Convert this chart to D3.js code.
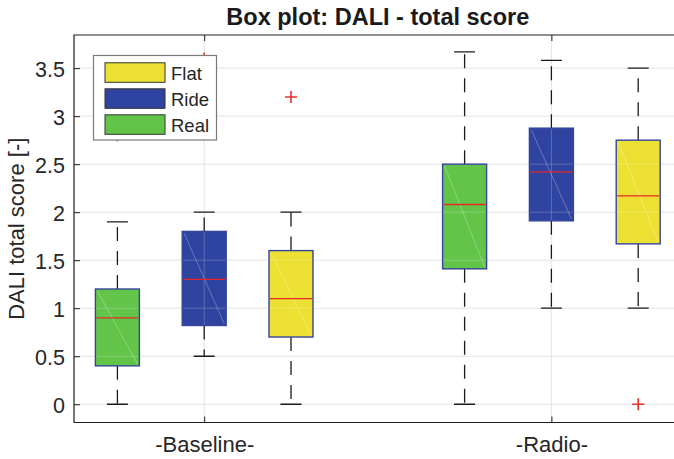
<!DOCTYPE html>
<html>
<head>
<meta charset="utf-8">
<script src="https://cdn.jsdelivr.net/npm/d3@7"></script>
<style>
  html, body { margin: 0; padding: 0; background: #fff; }
  svg { display: block; font-family: "Liberation Sans", Arial, Helvetica, sans-serif; }
</style>
</head>
<body>
<svg id="chart" width="674" height="459"></svg>
<script>
// Groups on the x axis and their tick positions
const groups = ["-Baseline-", "-Radio-"];
const groupPositions = [2, 6];

// Series drawn left to right inside each group
const series = ["Real", "Ride", "Flat"];
const seriesColors = ["#62c54a", "#2f43a0", "#ece132"];
const seriesOffsets = [-1, 0, 1];

// Box statistics per series: [lower whisker, Q1, median, Q3, upper whisker], one per group
const realStats = [[0, 0.40, 0.90, 1.20, 1.90], [0, 1.41, 2.08, 2.50, 3.67]];
const rideStats = [[0.50, 0.82, 1.30, 1.80, 2.00], [1.00, 1.91, 2.42, 2.875, 3.58]];
const flatStats = [[0, 0.70, 1.10, 1.60, 2.00], [1.00, 1.67, 2.17, 2.75, 3.50]];

// Outliers per series, one list per group
const realOutliers = [[2.8], []];
const rideOutliers = [[3.6], []];
const flatOutliers = [[3.2], [0]];

// Legend order
const legendOrder = ["Flat", "Ride", "Real"];

// Axis ticks
const yTicks = [0, 0.5, 1, 1.5, 2, 2.5, 3, 3.5];

const statsBySeries = [realStats, rideStats, flatStats];
const outliersBySeries = [realOutliers, rideOutliers, flatOutliers];

const W = 674, H = 459;
const mLeft = 74, mTop = 35, mBottom = 422.5, mRight = 681.6;

const svg = d3.select("#chart");
svg.append("rect").attr("width", W).attr("height", H).attr("fill", "#fff");

const x = d3.scaleLinear().domain([0.5, 7.5]).range([mLeft, mRight]);
const y = d3.scaleLinear().domain([-0.19, 3.845]).range([mBottom, mTop]);

const defs = svg.append("defs");
defs.append("clipPath").attr("id", "plotClip")
  .append("rect").attr("x", mLeft).attr("y", mTop).attr("width", W - mLeft).attr("height", mBottom - mTop);

// One record per box
const boxes = [];
groups.forEach((g, gi) => {
  series.forEach((s, si) => {
    const st = statsBySeries[si][gi];
    boxes.push({
      group: g, series: s, color: seriesColors[si],
      pos: groupPositions[gi] + seriesOffsets[si],
      lo: st[0], q1: st[1], med: st[2], q3: st[3], hi: st[4],
      outliers: outliersBySeries[si][gi]
    });
  });
});

const boxHalf = 22, capHalf = 10.5;

const boxClip = defs.append("clipPath").attr("id", "boxClip");
boxes.forEach(b => {
  boxClip.append("rect")
    .attr("x", x(b.pos) - boxHalf).attr("y", y(b.q3))
    .attr("width", 2 * boxHalf).attr("height", y(b.q1) - y(b.q3));
});

const plot = svg.append("g").attr("clip-path", "url(#plotClip)");

function drawGrid(g, color, opacity) {
  g.selectAll("line.h").data(yTicks).join("line").attr("class", "h")
    .attr("x1", mLeft).attr("x2", mRight)
    .attr("y1", d => y(d)).attr("y2", d => y(d))
    .attr("stroke", color).attr("stroke-opacity", opacity).attr("stroke-width", 1);
  g.selectAll("line.v").data(groupPositions).join("line").attr("class", "v")
    .attr("x1", d => x(d)).attr("x2", d => x(d))
    .attr("y1", mTop).attr("y2", mBottom)
    .attr("stroke", color).attr("stroke-opacity", opacity).attr("stroke-width", 1);
}

// Grid under the marks
drawGrid(plot.append("g"), "#e3e3e3", 1);

const marks = plot.append("g");

// Whiskers (dashed) and caps
boxes.forEach(b => {
  const cx = x(b.pos);
  marks.append("line")
    .attr("x1", cx).attr("x2", cx).attr("y1", y(b.q3)).attr("y2", y(b.hi))
    .attr("stroke", "#1a1a1a").attr("stroke-width", 1.3).attr("stroke-dasharray", "14,10");
  marks.append("line")
    .attr("x1", cx).attr("x2", cx).attr("y1", y(b.q1)).attr("y2", y(b.lo))
    .attr("stroke", "#1a1a1a").attr("stroke-width", 1.3).attr("stroke-dasharray", "14,10");
  [b.hi, b.lo].forEach(v => {
    marks.append("line")
      .attr("x1", cx - capHalf).attr("x2", cx + capHalf)
      .attr("y1", y(v)).attr("y2", y(v))
      .attr("stroke", "#1a1a1a").attr("stroke-width", 1.3);
  });
});

// Box fills
marks.selectAll("rect.box").data(boxes).join("rect").attr("class", "box")
  .attr("x", d => x(d.pos) - boxHalf).attr("y", d => y(d.q3))
  .attr("width", 2 * boxHalf).attr("height", d => y(d.q1) - y(d.q3))
  .attr("fill", d => d.color);

// Grid showing faintly through the boxes
drawGrid(plot.append("g").attr("clip-path", "url(#boxClip)"), "#ffffff", 0.22);

const over = plot.append("g");
// Diagonal seam inside each box
over.selectAll("line.diag").data(boxes).join("line").attr("class", "diag")
  .attr("x1", d => x(d.pos) - boxHalf + 2).attr("y1", d => y(d.q3) + 2)
  .attr("x2", d => x(d.pos) + boxHalf - 2).attr("y2", d => y(d.q1) - 2)
  .attr("stroke", "#ffffff").attr("stroke-opacity", 0.28).attr("stroke-width", 1);

// Box outlines
over.selectAll("rect.edge").data(boxes).join("rect").attr("class", "edge")
  .attr("x", d => x(d.pos) - boxHalf).attr("y", d => y(d.q3))
  .attr("width", 2 * boxHalf).attr("height", d => y(d.q1) - y(d.q3))
  .attr("fill", "none").attr("stroke", "#34459c").attr("stroke-width", 1.4);

// Medians
over.selectAll("line.med").data(boxes).join("line").attr("class", "med")
  .attr("x1", d => x(d.pos) - boxHalf + 1).attr("x2", d => x(d.pos) + boxHalf - 1)
  .attr("y1", d => y(d.med)).attr("y2", d => y(d.med))
  .attr("stroke", "#e8282a").attr("stroke-width", 1.3);

// Outliers as red plus signs
const outPts = boxes.flatMap(b => b.outliers.map(v => ({ pos: b.pos, v })));
const arm = 6;
outPts.forEach(p => {
  const cx = x(p.pos), cy = y(p.v);
  over.append("path")
    .attr("d", `M${cx - arm},${cy}H${cx + arm}M${cx},${cy - arm}V${cy + arm}`)
    .attr("stroke", "#e8302a").attr("stroke-width", 1.6).attr("fill", "none");
});

// Axes
const axisColor = "#1f1f1f";
const yAxis = d3.axisLeft(y).tickValues(yTicks).tickFormat(d3.format("")).tickSize(-6).tickPadding(9);
const gy = svg.append("g").attr("transform", `translate(${mLeft},0)`).call(yAxis);
gy.select(".domain").remove();
gy.selectAll(".tick line").attr("stroke", axisColor);
gy.selectAll(".tick text")
  .attr("font-size", 21.5).attr("fill", "#262626")
  .attr("font-family", "Liberation Sans, Arial, sans-serif")
  .attr("dy", "0.37em");

const xAxis = d3.axisBottom(x).tickValues(groupPositions).tickFormat((d, i) => groups[i]).tickSize(-6).tickPadding(14);
const gx = svg.append("g").attr("transform", `translate(0,${mBottom})`).call(xAxis);
gx.select(".domain").remove();
gx.selectAll(".tick line").attr("stroke", axisColor);
gx.selectAll(".tick text")
  .attr("font-size", 22).attr("fill", "#262626")
  .attr("font-family", "Liberation Sans, Arial, sans-serif");

const xTop = d3.axisTop(x).tickValues(groupPositions).tickFormat("").tickSize(-6);
const gt = svg.append("g").attr("transform", `translate(0,${mTop})`).call(xTop);
gt.select(".domain").remove();
gt.selectAll(".tick line").attr("stroke", axisColor);

// Axis frame
svg.append("path")
  .attr("d", `M${W},${mTop}H${mLeft}V${mBottom}H${W}`)
  .attr("fill", "none").attr("stroke", axisColor).attr("stroke-width", 1.2);

// Title
svg.append("text")
  .attr("x", (mLeft + mRight) / 2).attr("y", 25)
  .attr("text-anchor", "middle")
  .attr("font-size", 23.5).attr("font-weight", "bold").attr("fill", "#1a1a1a")
  .text("Box plot: DALI - total score");

// Y axis label
svg.append("text")
  .attr("transform", `translate(24,${(mTop + mBottom) / 2}) rotate(-90)`)
  .attr("text-anchor", "middle")
  .attr("font-size", 22).attr("fill", "#262626")
  .text("DALI total score [-]");

// Legend
const legend = svg.append("g");
legend.append("rect")
  .attr("x", 93.5).attr("y", 55.5).attr("width", 123).attr("height", 84.5)
  .attr("fill", "#fff").attr("stroke", "#7a7a7a").attr("stroke-width", 1.2);
const legendRows = legend.selectAll("g.row").data(legendOrder).join("g").attr("class", "row")
  .attr("transform", (d, i) => `translate(0,${i * 26})`);
legendRows.append("rect")
  .attr("x", 105).attr("y", 62.8).attr("width", 60).attr("height", 19.5)
  .attr("fill", d => seriesColors[series.indexOf(d)])
  .attr("stroke", "#333").attr("stroke-width", 1);
legendRows.append("text")
  .attr("x", 171).attr("y", 80)
  .attr("font-size", 18.5).attr("fill", "#262626")
  .text(d => d);
</script>
</body>
</html>
